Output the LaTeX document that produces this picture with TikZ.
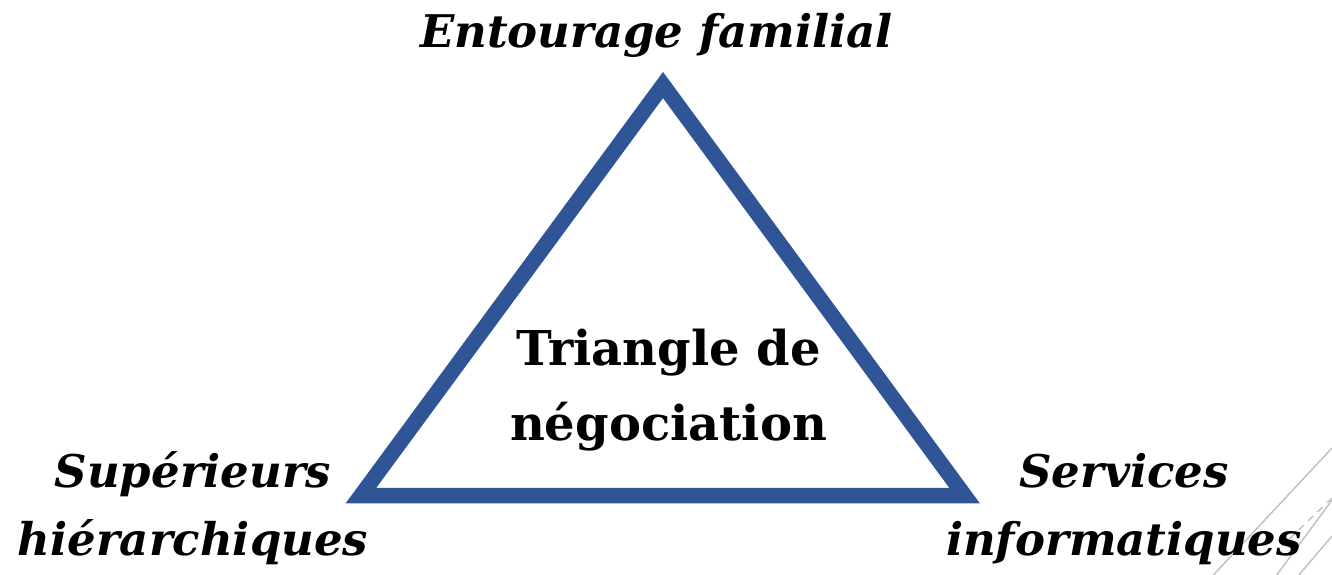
\documentclass[tikz,border=0pt]{standalone}
\usepackage{fontspec}
\setmainfont{DejaVu Serif}
\definecolor{triblue}{HTML}{2F5597}
\definecolor{decogray}{HTML}{BFBFBF}
\begin{document}
\begin{tikzpicture}[x=1pt,y=-1pt,
  corner/.style={font=\bfseries\itshape\fontsize{45}{68}\selectfont, align=center, anchor=base, inner sep=0pt},
  centre/.style={font=\bfseries\fontsize{48}{75}\selectfont, align=center, anchor=base, inner sep=0pt},
  tri/.style={draw=triblue, line width=15.5pt, line join=miter},
  deco/.style={draw=decogray, line width=1.4pt}]
\useasboundingbox (0,0) rectangle (1332,574);
% decorative lines
\draw[deco] (1332,448) -- (1205,584);
\draw[deco] (1332,500) -- (1276,576);
\draw[deco, dash pattern=on 7pt off 6pt] (1332,498) -- (1282,546);
\draw[deco] (1332,536) -- (1298,576);
% triangle
\coordinate (A) at (663,85);
\coordinate (B) at (361,495.5);
\coordinate (C) at (964.5,495.5);
\draw[tri] (B) -- (C) -- (A) -- cycle;
% labels (base anchor = baseline of the last line)
\node[corner] (top) at (656.5,47) {Entourage familial};
\node[corner] (left) at (193,555) {Supérieurs\\hiérarchiques};
\node[corner] (right) at (1124,555) {Services\\informatiques};
\node[centre] (mid) at (668.5,440) {Triangle de\\négociation};
\end{tikzpicture}
\end{document}
